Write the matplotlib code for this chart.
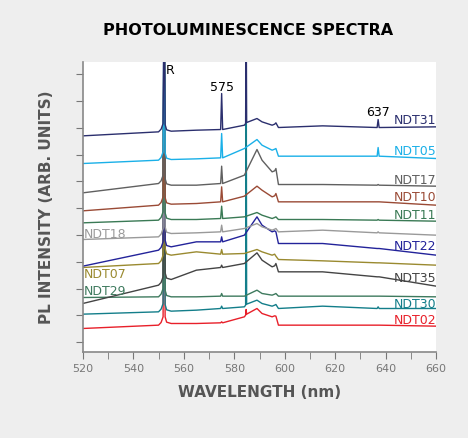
import numpy as np
import matplotlib.pyplot as plt

# wavelengths (nm) where values are read; 575, 596.5 and 637 are the sharp-peak tops
wl = [520, 550, 555, 565, 574.6, 575, 584, 589, 591, 595, 596.5, 597.5, 615, 636.6, 637, 660]

names = ['NDT31', 'NDT05', 'NDT17', 'NDT10', 'NDT11', 'NDT18',
         'NDT22', 'NDT07', 'NDT35', 'NDT29', 'NDT30', 'NDT02']
colors = ['#2b2f6e', '#1ab0e8', '#606060', '#9a4a35', '#3a7a55', '#9a9a9a',
          '#23239a', '#9a8a30', '#444444', '#3e7a5e', '#137e8a', '#e8202a']

ndt31 = [743, 755, 757, 760, 762, 870, 775, 795, 785, 775, 782, 768, 773, 768, 792, 770]
ndt05 = [660, 670, 672, 674, 677, 750, 705, 732, 715, 700, 705, 682, 682, 682, 708, 675]
ndt17 = [572, 600, 595, 595, 600, 652, 625, 702, 670, 635, 645, 597, 597, 595, 597, 592]
ndt10 = [518, 535, 538, 540, 545, 590, 562, 592, 580, 560, 570, 545, 545, 545, 545, 535]
ndt11 = [482, 490, 492, 492, 495, 532, 500, 513, 505, 495, 500, 492, 492, 490, 492, 487]
ndt18 = [432, 440, 450, 452, 455, 475, 465, 480, 470, 460, 465, 455, 460, 452, 455, 445]
ndt22 = [352, 400, 410, 425, 425, 440, 445, 500, 475, 455, 455, 420, 420, 405, 405, 385]
ndt07 = [348, 360, 385, 395, 388, 402, 390, 402, 395, 385, 382, 372, 368, 362, 362, 355]
ndt35 = [240, 295, 312, 340, 348, 355, 360, 392, 370, 350, 360, 335, 335, 320, 320, 292]
ndt29 = [258, 260, 260, 260, 262, 270, 262, 280, 270, 265, 270, 262, 262, 262, 262, 260]
ndt30 = [208, 215, 217, 220, 225, 232, 230, 250, 240, 232, 237, 225, 232, 225, 230, 225]
ndt02 = [165, 175, 180, 180, 182, 185, 200, 225, 210, 200, 202, 175, 175, 175, 175, 172]
series = [ndt31, ndt05, ndt17, ndt10, ndt11, ndt18, ndt22, ndt07, ndt35, ndt29, ndt30, ndt02]

# height of the 584.7 nm line where it shows
line585 = {'NDT31': 1200, 'NDT30': 1200, 'NDT02': 222}
r_peak = 1200

label_y = {'NDT31': 788, 'NDT05': 695, 'NDT17': 610, 'NDT10': 558, 'NDT11': 503,
           'NDT22': 410, 'NDT35': 315, 'NDT30': 238, 'NDT02': 190}
left_label_y = {'NDT18': 447, 'NDT07': 328, 'NDT29': 275}

fig = plt.figure(figsize=(4.68, 4.38), dpi=100, facecolor='#eeeeee')
ax = fig.add_axes([0.177, 0.196, 0.755, 0.662])
ax.set_facecolor('white')

# bottom traces first so the upper ones sit on top of the R line
for name, col, v in reversed(list(zip(names, colors, series))):
    pts = list(zip(wl, v))
    pts += [(551.0, v[1] + 8), (551.8, v[1] + 25), (552.2, r_peak), (552.6, v[2] + 20), (553.2, v[2] + 4)]
    pts += [(575.4, v[4]), (637.4, v[13]), (596.0, v[9] + 3)]
    if name in line585:
        b = v[6] + 5
        pts += [(584.5, b), (584.7, line585[name]), (584.9, b + 3)]
    pts.sort()
    px, py = zip(*pts)
    ax.plot(px, py, color=col, lw=1.0)
    if name in label_y:
        ax.text(660, label_y[name], name, color=col, ha='right', va='center', fontsize=9)
    else:
        ax.text(520.5, left_label_y[name], name, color=col, ha='left', va='center', fontsize=9)

ax.text(552.7, 938, 'R', fontsize=9, ha='left', va='center')
ax.text(575, 888, '575', fontsize=9, ha='center', va='center')
ax.text(637, 812, '637', fontsize=9, ha='center', va='center')

ax.set_xlim(520, 660)
ax.set_ylim(94, 964)
ax.set_xticks(np.arange(520, 661, 20))
ax.set_xticks(np.arange(520, 661, 10), minor=True)
ax.set_yticks(np.arange(124, 964, 80.4))
ax.set_yticklabels([])
ax.tick_params(colors='#777777', labelsize=8, length=5, direction='out')
ax.tick_params(which='minor', colors='#777777', length=5)
for s in ['top', 'right']:
    ax.spines[s].set_visible(False)
for s in ['left', 'bottom']:
    ax.spines[s].set_color('#888888')
    ax.spines[s].set_linewidth(1.2)

ax.set_xlabel('WAVELENGTH (nm)', fontsize=11, color='#555555', fontweight='bold', labelpad=8)
ax.set_ylabel('PL INTENSITY (ARB. UNITS)', fontsize=11, color='#555555', fontweight='bold', labelpad=12)
fig.text(0.53, 0.92, 'PHOTOLUMINESCENCE SPECTRA', ha='center', fontsize=11.5, fontweight='bold')

fig.savefig('out.png', dpi=100, facecolor=fig.get_facecolor())
